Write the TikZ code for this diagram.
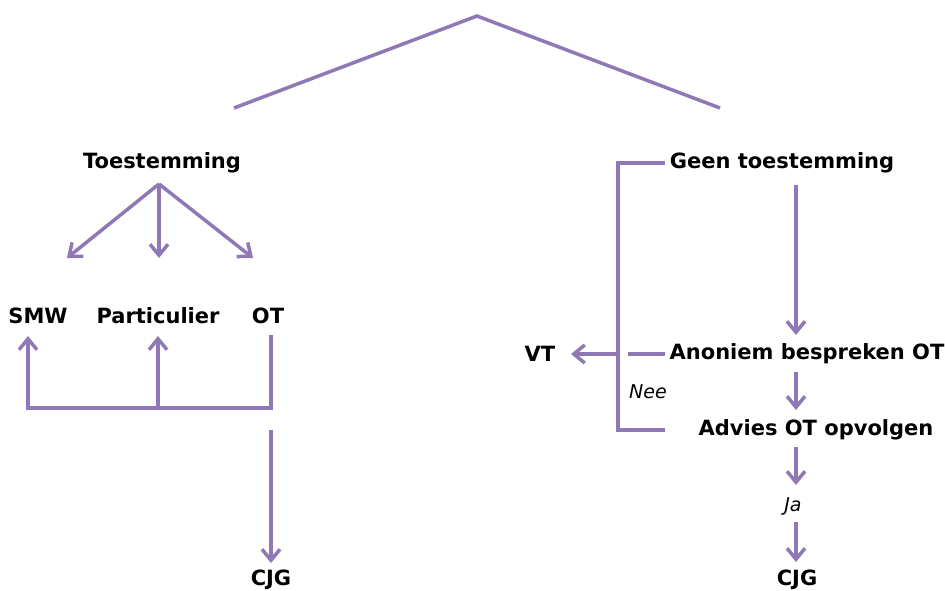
\documentclass[tikz,border=0pt]{standalone}
\usepackage{fontspec}
\setmainfont{DejaVu Sans}
\usetikzlibrary{arrows.meta}
\definecolor{lila}{RGB}{142,120,181}

\begin{document}
\begin{tikzpicture}[x=1pt,y=-1pt,
	lbl/.style={font=\bfseries\fontsize{21}{24}\selectfont, inner sep=0pt},
	cmt/.style={font=\itshape\fontsize{19}{22}\selectfont, inner sep=0pt},
	lijn/.style={draw=lila, line width=3.5pt},
	pijl/.style={lijn, -{Straight Barb[length=11pt,width=18pt,line width=3.5pt]}}]
	\useasboundingbox (0,0) rectangle (945,590);
	% dak
	\coordinate (dl) at (234,108);
	\coordinate (top) at (477,16);
	\coordinate (dr) at (720,108);
	\draw[lijn] (dl) -- (top) -- (dr);
	% linkertak
	\node[lbl] (toest) at (162,163) {Toestemming};
	\node[lbl] (smw) at (38,316) {SMW};
	\node[lbl] (part) at (158,316) {Particulier};
	\node[lbl] (ot) at (268,316) {OT};
	\node[lbl] (cjgl) at (271,580) {CJG};
	\coordinate (splits) at (159,184);
	\draw[pijl] (splits) -- (67,258);
	\draw[pijl] (splits) -- (159,258);
	\draw[pijl] (splits) -- (253,258);
	\coordinate (otb) at (271,335);
	\coordinate (hoek) at (271,408);
	\draw[lijn] (otb) -- (hoek) -- (28,408);
	\draw[pijl] (28,409.75) -- (28,336);
	\draw[pijl] (158,408) -- (158,336);
	\draw[pijl] (271,430) -- (271,563);
	% rechtertak
	\node[lbl] (geen) at (782,163) {Geen toestemming};
	\node[lbl] (anon) at (807,354) {Anoniem bespreken OT};
	\node[lbl] (advies) at (816,430) {Advies OT opvolgen};
	\node[lbl] (vt) at (540,354) {VT};
	\node[cmt] (nee) at (648,392) {Nee};
	\node[cmt] (ja) at (793,506) {Ja};
	\node[lbl] (cjgr) at (797,580) {CJG};
	\draw[lijn] (665,163) -- (618,163) -- (618,430) -- (665,430);
	\draw[lijn] (628,354) -- (665,354);
	\draw[pijl, line width=4.5pt] (618,354) -- (571,354);
	\draw[pijl] (796,185) -- (796,335);
	\draw[pijl] (796,372) -- (796,410);
	\draw[pijl] (796,447) -- (796,485);
	\draw[pijl] (796,522) -- (796,562);
\end{tikzpicture}
\end{document}
